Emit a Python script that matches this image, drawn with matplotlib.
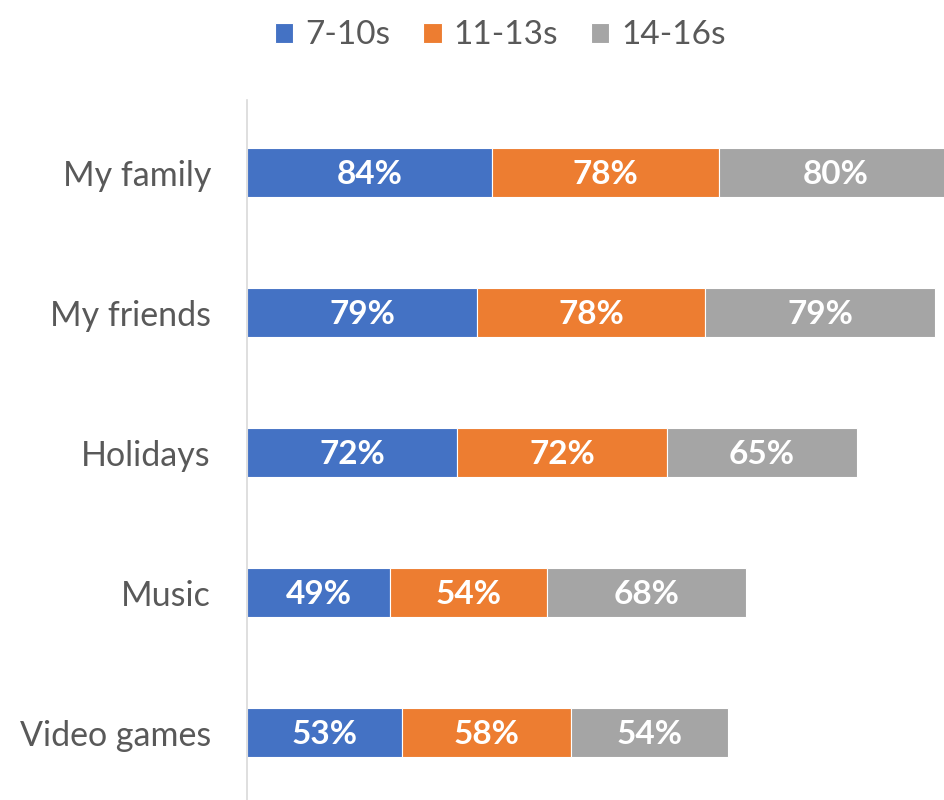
import numpy as np
import matplotlib
matplotlib.use("Agg")
import matplotlib.pyplot as plt

plt.rcParams['font.family'] = ['Lato', 'DejaVu Sans']

# ── Data ─────────────────────────────────────────────
categories = ['Video games', 'Music', 'Holidays', 'My friends', 'My family']
series_names = ['7-10s', '11-13s', '14-16s']
age_7_10 = [53, 49, 72, 79, 84]
age_11_13 = [58, 54, 72, 78, 78]
age_14_16 = [54, 68, 65, 79, 80]
colors = ['#4472C4', '#ED7D31', '#A5A5A5']
text_col = '#595959'

fig = plt.figure(figsize=(9.44, 8.0), dpi=100)
ax = fig.add_axes([247 / 944, 0.0, 697 / 944, 700 / 800])

y = np.arange(len(categories))
left = np.zeros(len(categories))
for name, vals, col in zip(series_names, [age_7_10, age_11_13, age_14_16], colors):
    vals = np.array(vals)
    ax.barh(y, vals, left=left, height=0.35, color=col, label=name,
            edgecolor='white', linewidth=0.8)
    for yi, l, v in zip(y, left, vals):
        ax.text(l + v / 2, yi - 0.015, f'{v}%', ha='center', va='center',
                color='white', fontsize=24, fontweight='bold')
    left += vals

ax.set_xlim(0, 239)
ax.set_ylim(-0.48, 4.52)
ax.set_yticks(y)
ax.set_yticklabels(categories, fontsize=24.5, color=text_col)
ax.set_xticks([])
ax.tick_params(axis='y', length=0, pad=26)
for s in ['top', 'right', 'bottom']:
    ax.spines[s].set_visible(False)
ax.spines['left'].set_color('#D9D9D9')
ax.spines['left'].set_linewidth(1.2)

fig.legend(loc='upper center', bbox_to_anchor=(0.53, 1.012), ncol=3,
           frameon=False, fontsize=24, handlelength=0.55, handleheight=0.55,
           columnspacing=1.0, handletextpad=0.35, labelcolor=text_col)

fig.savefig('out.png', dpi=100)
